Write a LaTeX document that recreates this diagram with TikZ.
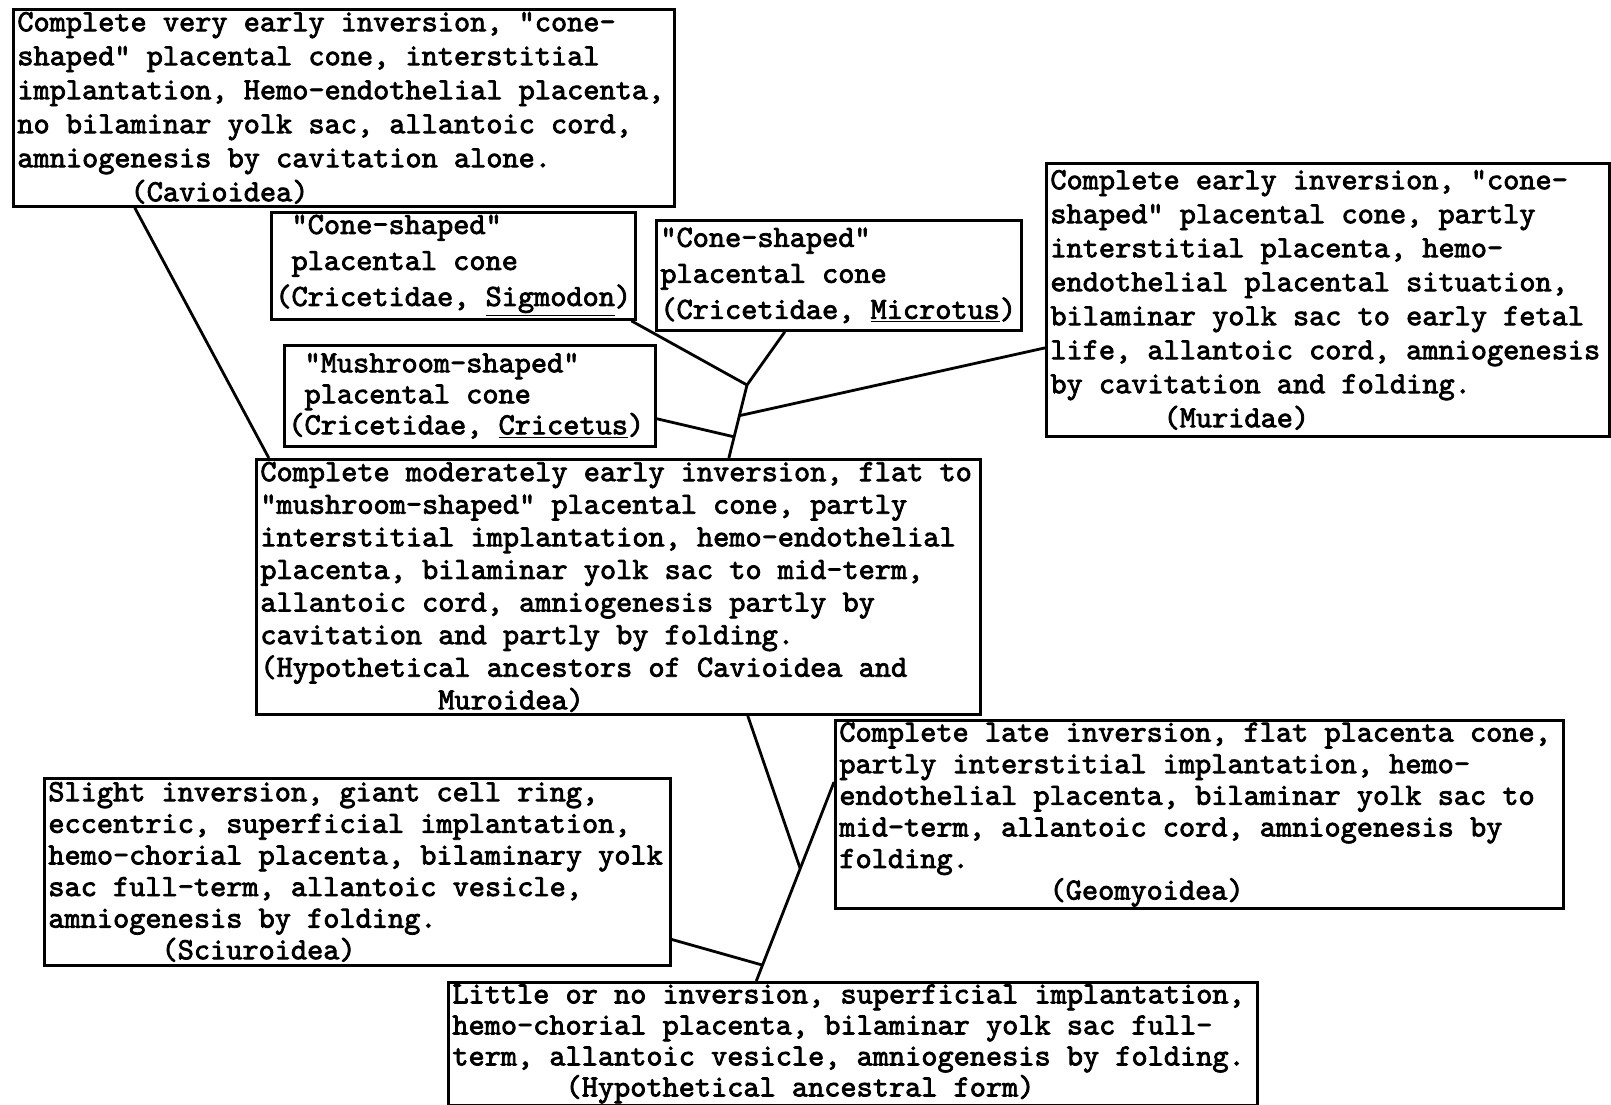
\documentclass[tikz,border=0pt]{standalone}
\usepackage{fontspec}
\setmonofont{lmmono10-regular.otf}[FakeBold=2.5]
\usetikzlibrary{calc}

% n typewriter characters of space
\newcommand{\chpad}[1]{\hspace*{\dimexpr\fontcharwd\font`x*#1\relax}}
% typed lines, kept as typed, in a box #1 wide
\newcommand{\typed}[2]{\makebox[#1][l]{\parbox{60em}{\raggedright#2}}}

\begin{document}
\begin{tikzpicture}[x=.5pt, y=-.5pt, line width=1.4pt,
  card/.style={draw, anchor=north west, inner xsep=2pt, inner ysep=1pt,
    font=\ttfamily\fontsize{15.4}{#1}\selectfont}]

\useasboundingbox (0,0) rectangle (1611,1104);
%\draw[step=100, gray!40, thin] (0,0) grid (1611,1104);

\node[card=17pt, minimum height=98.5pt] (cavio) at (12,8)
{\typed{326.5pt}{Complete very early inversion, "cone-\\
shaped" placental cone, interstitial\\
implantation, Hemo-endothelial placenta,\\
no bilaminar yolk sac, allantoic cord,\\
amniogenesis by cavitation alone.\\
\chpad{7}(Cavioidea)}};

\node[card=18pt, minimum height=53.5pt] (sigmo) at (270,211)
{\typed{178pt}{\chpad{1}"Cone-shaped"\\
\chpad{1}placental cone\\
(Cricetidae, \underline{Sigmodon})}};

\node[card=18pt, minimum height=55pt] (micro) at (655,219)
{\typed{178.5pt}{"Cone-shaped"\\
placental cone\\
(Cricetidae, \underline{Microtus})}};

\node[card=17pt, minimum height=136.5pt] (muri) at (1045,162)
{\typed{277.5pt}{Complete early inversion, "cone-\\
shaped" placental cone, partly\\
interstitial placenta, hemo-\\
endothelial placental situation,\\
bilaminar yolk sac to early fetal\\
life, allantoic cord, amniogenesis\\
by cavitation and folding.\\
\chpad{7}(Muridae)}};

\node[card=15.5pt, minimum height=50.5pt] (crice) at (283,344)
{\typed{181.5pt}{\chpad{1}"Mushroom-shaped"\\
\chpad{1}placental cone\\
(Cricetidae, \underline{Cricetus})}};

\node[card=16.3pt, minimum height=127.5pt] (ancmur) at (255,458)
{\typed{358pt}{Complete moderately early inversion, flat to\\
"mushroom-shaped" placental cone, partly\\
interstitial implantation, hemo-endothelial\\
placenta, bilaminar yolk sac to mid-term,\\
allantoic cord, amniogenesis partly by\\
cavitation and partly by folding.\\
(Hypothetical ancestors of Cavioidea and\\
\chpad{11}Muroidea)}};

\node[card=15.8pt, minimum height=93.5pt] (geomy) at (834,719)
{\typed{360pt}{Complete late inversion, flat placenta cone,\\
partly interstitial implantation, hemo-\\
endothelial placenta, bilaminar yolk sac to\\
mid-term, allantoic cord, amniogenesis by\\
folding.\\
\chpad{13}(Geomyoidea)}};

\node[card=15.8pt, minimum height=93.5pt] (sciur) at (43,777)
{\typed{309pt}{Slight inversion, giant cell ring,\\
eccentric, superficial implantation,\\
hemo-chorial placenta, bilaminary yolk\\
sac full-term, allantoic vesicle,\\
amniogenesis by folding.\\
\chpad{7}(Sciuroidea)}};

\node[card=15.5pt, minimum height=60pt] (ancest) at (447,981)
{\typed{400.5pt}{Little or no inversion, superficial implantation,\\
hemo-chorial placenta, bilaminar yolk sac full-\\
term, allantoic vesicle, amniogenesis by folding.\\
\chpad{7}(Hypothetical ancestral form)}};

% upper fork
\coordinate (forkup) at (747,385);
\coordinate (trunktop) at ($(ancmur.north west)!.652!(ancmur.north east)$);
\draw ($(cavio.south west)!.185!(cavio.south east)$) -- ($(ancmur.north west)!.019!(ancmur.north east)$);
\draw ($(sigmo.south west)!.985!(sigmo.south east)$) -- (forkup);
\draw ($(micro.south west)!.353!(micro.south east)$) -- (forkup);
\draw (forkup) -- (trunktop);
\draw ($(muri.north west)!.674!(muri.south west)$) -- ($(forkup)!.42!(trunktop)$);
\draw ($(crice.north east)!.72!(crice.south east)$) -- ($(forkup)!.71!(trunktop)$);

% lower fork
\coordinate (geoout) at ($(geomy.north west)!.33!(geomy.south west)$);
\coordinate (basetop) at ($(ancest.north west)!.381!(ancest.north east)$);
\draw (geoout) -- (basetop);
\draw ($(ancmur.south west)!.678!(ancmur.south east)$) -- ($(geoout)!.435!(basetop)$);
\draw ($(sciur.north east)!.856!(sciur.south east)$) -- ($(geoout)!.92!(basetop)$);

\end{tikzpicture}
\end{document}
